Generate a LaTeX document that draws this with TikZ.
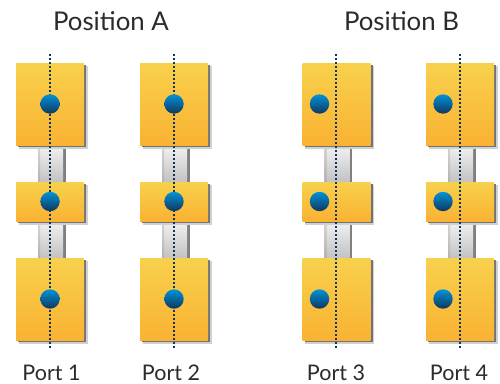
\documentclass[tikz,border=0pt]{standalone}
\usepackage{fontspec}
\setmainfont{Lato}
\definecolor{txt}{HTML}{2B2B2B}
\definecolor{blocktop}{HTML}{F8D14C}
\definecolor{blockbot}{HTML}{FAB233}
\definecolor{balltop}{HTML}{0093D6}
\definecolor{ballbot}{HTML}{10365F}
\definecolor{dotline}{HTML}{12355B}
\tikzset{
  x=1pt,y=-1pt,
  block/.style={minimum width=68pt,inner sep=0pt,outer sep=0pt,anchor=north west,top color=blocktop,bottom color=blockbot,shade},
  blockshadow/.style={fill=black!55,minimum width=68pt,inner sep=0pt,anchor=north west},
  softshadow/.style={fill=black!18,minimum width=69pt,inner sep=0pt,anchor=north west},
  stem/.style={minimum width=25pt,inner sep=0pt,anchor=north west,top color=black!5,bottom color=black!24,shade},
  stemedge/.style={minimum width=2pt,inner sep=0pt,anchor=north west,top color=black!16,bottom color=black!30,shade},
  stemshadow/.style={fill=black!50,minimum width=25pt,inner sep=0pt,anchor=north west},
  ball/.style={circle,minimum size=19.4pt,inner sep=0pt,top color=balltop,bottom color=ballbot,shade},
  axis/.style={dotline,line width=1.5pt,dash pattern=on 2pt off 2pt},
  title/.style={text=txt,inner sep=0pt,font=\fontsize{25.8}{30}\selectfont},
  portlabel/.style={text=txt,inner sep=0pt,font=\fontsize{21.5}{25}\selectfont}
}
% #1 name, #2 left edge, #3 axis x, #4 ball x, #5 label x, #6 label
\newcommand{\valvecol}[6]{
  \node[stemshadow,minimum height=37pt] at (#2+24.5,145) {};
  \node[stem,minimum height=37pt] (#1s1) at (#2+22,145) {};
  \node[stemedge,minimum height=37pt] at (#2+22,145) {};
  \node[stemshadow,minimum height=37pt] at (#2+24.5,221) {};
  \node[stem,minimum height=37pt] (#1s2) at (#2+22,221) {};
  \node[stemedge,minimum height=37pt] at (#2+22,221) {};
  \foreach \nm/\ty/\hh in {t/63/82,m/182/39,b/258/82}{
    \node[softshadow,minimum height=\hh pt+1pt] at (#2+2.5,\ty+2.5) {};
    \node[blockshadow,minimum height=\hh pt] at (#2+2.2,\ty+2.2) {};
    \node[block,minimum height=\hh pt] (#1\nm) at (#2,\ty) {};
  }
  \coordinate (#1up) at (#3,54);
  \coordinate (#1dn) at (#3,349.5);
  \draw[axis] (#1up) -- (#1dn);
  \node[ball] (#1bt) at (#4,104) {};
  \node[ball] (#1bm) at (#4,201.5) {};
  \node[ball] (#1bb) at (#4,299) {};
  \node[portlabel] (#1lab) at (#5,373) {#6};
}
\begin{document}
\begin{tikzpicture}
\useasboundingbox (0,0) rectangle (500,383);
\valvecol{a}{16}{50}{50}{51.5}{Port 1}
\valvecol{c}{140}{174}{174}{171}{Port 2}
\valvecol{e}{302.5}{336}{319.5}{336}{Port 3}
\valvecol{g}{426}{460}{443}{459}{Port 4}
\node[title] (posa) at (111,21) {Position A};
\node[title] (posb) at (401.5,21) {Position B};
\end{tikzpicture}
\end{document}
